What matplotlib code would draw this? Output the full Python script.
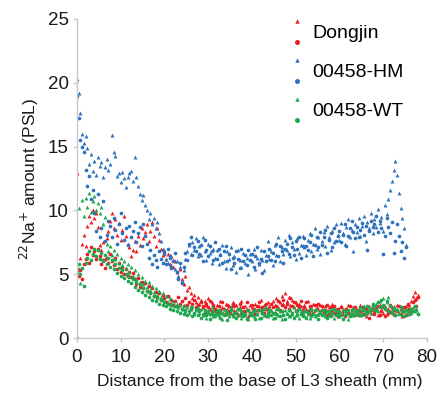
import numpy as np
import matplotlib
matplotlib.use("Agg")
import matplotlib.pyplot as plt
from matplotlib.lines import Line2D
from matplotlib.legend_handler import HandlerBase

plt.rcParams["font.family"] = ["Liberation Sans", "DejaVu Sans"]

# Sampling positions along the sheath (mm), one reading every 0.4 mm
distance_mm = np.round(np.arange(0, 78.01, 0.4), 1)
n_hm = 189  # 00458-HM profile stops at ~75 mm

# ---- Dongjin (two replicate profiles) ----
dongjin_a = [
    12.9, 5.4, 6.3, 7.4, 8.1, 7.2, 8.8, 9.6, 9.1, 10.0,
    9.4, 9.8, 8.7, 7.3, 6.9, 7.5, 6.2, 7.8, 8.4, 9.2,
    9.8, 8.6, 9.3, 8.1, 9.0, 7.7, 8.5, 9.6, 8.0, 7.4,
    7.1, 6.4, 6.9, 7.6, 6.8, 8.0, 7.3, 8.6, 7.8, 8.3,
    8.9, 7.6, 8.4, 9.1, 8.0, 7.2, 8.6, 7.7, 7.0, 6.5,
    6.9, 6.2, 6.6, 5.8, 6.4, 5.6, 6.0, 5.2, 4.8, 5.4,
    4.6, 4.2, 4.9, 3.8, 4.0, 3.5, 3.1, 3.4, 2.8, 3.2,
    2.7, 3.0, 2.4, 2.9, 2.6, 3.1, 2.3, 2.8, 2.5, 2.2,
    2.6, 2.1, 2.9, 2.4, 1.9, 2.7, 2.3, 2.5, 2.0, 2.8,
    2.2, 2.6, 1.8, 2.4, 2.9, 2.1, 2.5, 2.3, 1.7, 2.6,
    2.4, 2.0, 2.7, 2.2, 2.5, 3.0, 2.1, 2.6, 2.3, 2.8,
    2.5, 2.2, 2.9, 2.6, 3.1, 2.4, 2.8, 3.3, 2.7, 3.5,
    2.9, 3.2, 2.6, 3.0, 2.4, 2.8, 2.2, 2.7, 2.5, 2.1,
    2.6, 2.3, 2.9, 2.0, 2.5, 2.7, 2.2, 2.4, 1.9, 2.6,
    2.3, 2.1, 2.5, 1.8, 2.4, 2.2, 2.7, 2.0, 2.3, 1.7,
    2.2, 2.5, 1.9, 2.3, 2.0, 2.6, 1.8, 2.2, 2.4, 2.1,
    1.9, 2.3, 2.6, 2.0, 2.4, 1.7, 2.2, 2.5, 2.0, 2.3,
    2.1, 2.4, 1.8, 2.6, 2.2, 2.0, 2.5, 1.9, 2.3, 2.1,
    2.4, 1.9, 2.2, 2.6, 2.0, 2.3, 1.7, 2.1, 2.5, 2.2,
    2.6, 2.9, 3.3, 3.6, 3.1, 3.4,
]
dongjin_b = [
    0.0, 4.9, 5.3, 4.6, 5.8, 6.2, 6.6, 5.9, 7.1, 6.5,
    6.8, 6.2, 7.0, 6.4, 5.8, 6.1, 5.5, 6.3, 5.9, 6.6,
    6.0, 5.7, 6.3, 5.4, 5.9, 5.2, 5.6, 5.0, 5.4, 4.9,
    5.2, 4.8, 5.1, 4.6, 4.2, 4.7, 4.0, 4.4, 3.9, 4.3,
    3.7, 4.1, 3.5, 3.9, 3.3, 3.6, 3.2, 3.5, 3.0, 3.4,
    3.1, 2.8, 3.3, 2.7, 3.0, 2.6, 2.9, 2.5, 3.2, 2.7,
    2.9, 2.5, 3.1, 2.6, 2.8, 2.3, 2.7, 3.0, 2.4, 2.6,
    2.2, 2.8, 2.5, 2.0, 2.7, 2.4, 2.9, 2.1, 2.6, 2.3,
    2.0, 2.5, 2.2, 2.8, 2.3, 1.9, 2.6, 2.1, 2.4, 2.7,
    2.5, 2.0, 2.3, 2.7, 1.9, 2.4, 2.1, 2.8, 2.2, 2.0,
    2.6, 2.3, 1.9, 2.5, 2.8, 2.2, 2.4, 2.0, 2.7, 2.3,
    2.1, 2.7, 2.4, 2.0, 2.5, 2.9, 2.2, 2.6, 3.0, 2.4,
    2.7, 2.3, 3.1, 2.5, 2.8, 2.1, 2.6, 2.4, 2.9, 2.2,
    2.4, 2.8, 2.1, 2.5, 2.2, 2.0, 2.6, 2.3, 2.7, 2.1,
    2.5, 2.0, 2.2, 2.6, 1.9, 2.4, 2.1, 2.5, 2.0, 2.3,
    2.0, 2.4, 2.1, 1.7, 2.3, 2.0, 2.5, 2.2, 1.8, 2.4,
    2.2, 1.8, 2.1, 2.4, 1.9, 2.3, 2.0, 1.6, 2.2, 2.5,
    1.9, 2.2, 2.5, 1.8, 2.1, 2.4, 1.7, 2.2, 2.0, 2.6,
    2.0, 2.3, 1.8, 2.1, 2.5, 1.9, 2.2, 2.4, 1.8, 2.7,
    2.3, 2.1, 2.8, 3.0, 2.5, 3.2,
]

# ---- 00458-HM (two replicate profiles) ----
hm_a = [
    20.3, 19.2, 17.6, 16.0, 15.3, 15.8, 14.9, 13.6, 14.4, 13.1,
    13.9, 12.8, 14.2, 13.5, 13.8, 12.6, 13.4, 14.0, 13.2, 13.6,
    15.9, 14.6, 14.3, 12.7, 12.9, 12.2, 13.0, 12.5, 11.8, 12.6,
    12.9, 13.1, 12.3, 14.2, 12.6, 11.9, 11.3, 10.8, 11.2, 10.4,
    10.0, 9.3, 9.8, 8.9, 9.4, 8.6, 9.1, 8.2, 7.6, 7.0,
    6.8, 6.2, 5.9, 6.5, 5.7, 6.1, 5.4, 6.0, 4.9, 5.6,
    4.5, 5.3, 6.2, 6.8, 7.3, 6.6, 7.5, 6.9, 7.8, 6.4,
    7.2, 6.5, 7.9, 6.8, 6.1, 7.4, 6.7, 5.9, 7.0, 6.3,
    6.9, 5.8, 6.6, 7.3, 6.0, 5.5, 6.8, 6.2, 7.1, 5.7,
    6.4, 5.2, 6.9, 6.1, 5.6, 6.7, 5.9, 6.3, 5.0, 6.6,
    6.0, 7.0, 5.4, 6.3, 5.8, 6.9, 6.1, 5.3, 6.5, 7.6,
    6.2, 6.8, 5.7, 7.3, 6.5, 7.9, 6.0, 7.1, 6.6, 7.7,
    6.9, 8.1, 6.4, 7.5, 7.0, 6.2, 7.8, 6.7, 7.3, 8.0,
    7.1, 6.5, 7.7, 8.2, 6.8, 7.4, 8.6, 7.0, 7.9, 6.6,
    7.6, 8.3, 7.2, 8.8, 7.9, 6.9, 8.4, 7.5, 8.9, 8.1,
    7.7, 9.0, 8.2, 7.4, 8.7, 9.3, 7.9, 8.5, 6.8, 8.9,
    8.3, 9.4, 8.0, 8.8, 9.6, 7.6, 9.1, 8.6, 9.8, 8.2,
    9.3, 8.7, 10.1, 9.0, 9.5, 8.4, 10.4, 9.7, 10.9, 11.6,
    12.3, 13.2, 13.9, 12.8, 11.4, 10.2, 9.4, 8.6, 7.3,
]
hm_b = [
    19.0, 17.2, 15.5, 15.0, 14.6, 13.2, 11.9, 12.7, 10.9, 11.6,
    9.8, 8.4, 11.3, 7.9, 8.6, 10.7, 7.6, 8.1, 9.2, 8.8,
    7.9, 9.4, 8.5, 7.4, 8.9, 9.8, 8.2, 7.7, 8.6, 7.3,
    8.8, 7.9, 8.4, 9.1, 7.5, 8.2, 8.7, 7.2, 8.9, 8.0,
    7.4, 6.3, 6.9, 5.8, 6.5, 6.1, 5.6, 6.8, 6.2, 5.9,
    6.6, 5.8, 7.0, 6.3, 5.5, 6.0, 6.7, 5.2, 4.6, 5.9,
    4.3, 5.6, 6.7, 6.1, 7.4, 7.9, 6.5, 7.1, 6.8, 7.6,
    6.6, 7.3, 6.0, 7.7, 6.9, 6.4, 7.2, 6.8, 6.1, 7.5,
    6.2, 7.0, 6.5, 5.9, 6.8, 7.2, 6.0, 6.6, 5.4, 6.3,
    5.9, 6.8, 6.2, 5.5, 7.0, 6.0, 6.5, 5.7, 6.9, 6.1,
    6.6, 5.6, 6.4, 7.1, 5.9, 6.2, 5.1, 6.8, 6.0, 6.4,
    7.0, 6.1, 6.7, 6.0, 7.4, 6.4, 7.2, 6.8, 5.9, 7.0,
    7.4, 6.6, 7.8, 7.1, 6.5, 7.6, 7.0, 7.9, 6.3, 7.2,
    7.8, 7.2, 6.9, 7.5, 8.1, 6.4, 7.3, 7.9, 7.1, 8.3,
    7.3, 7.9, 8.5, 6.7, 7.7, 8.2, 7.1, 8.6, 7.6, 8.0,
    8.4, 7.5, 8.1, 8.9, 7.2, 8.0, 8.6, 9.2, 8.3, 7.8,
    8.7, 7.9, 8.5, 9.0, 8.1, 8.8, 6.9, 8.4, 9.2, 8.7,
    8.9, 9.6, 8.3, 9.2, 8.6, 6.6, 8.0, 9.4, 8.7, 8.2,
    9.1, 6.7, 7.6, 8.9, 8.0, 6.8, 7.5, 6.3, 7.1,
]

# ---- 00458-WT (two replicate profiles) ----
wt_a = [
    5.6, 10.2, 4.3, 10.8, 9.6, 11.0, 10.3, 11.4, 9.9, 10.7,
    11.1, 10.0, 10.6, 9.8, 10.3, 8.9, 9.5, 7.4, 6.8, 7.2,
    6.5, 6.9, 6.2, 6.6, 5.9, 6.3, 5.7, 6.0, 5.5, 5.8,
    5.2, 5.6, 4.9, 5.3, 4.6, 5.0, 4.4, 4.8, 4.2, 4.5,
    4.0, 4.4, 3.8, 4.1, 3.6, 3.9, 3.4, 3.7, 3.2, 3.5,
    3.0, 3.3, 2.8, 3.1, 2.6, 2.9, 2.5, 2.7, 2.4, 2.6,
    2.3, 2.6, 2.1, 2.4, 2.0, 2.3, 2.5, 1.9, 2.2, 2.4,
    2.0, 2.3, 1.8, 2.1, 1.6, 2.2, 1.9, 2.4, 1.7, 2.0,
    2.2, 1.8, 2.0, 1.5, 2.3, 1.9, 2.1, 1.7, 2.4, 1.9,
    1.7, 2.1, 1.9, 2.3, 1.6, 2.0, 1.8, 2.2, 1.5, 2.0,
    2.1, 1.7, 2.3, 1.9, 1.6, 2.2, 2.0, 1.8, 2.4, 1.7,
    1.9, 2.2, 1.6, 2.0, 2.3, 1.8, 2.1, 1.5, 1.9, 2.2,
    2.0, 1.7, 2.2, 1.9, 2.4, 1.8, 2.0, 1.6, 2.1, 1.9,
    1.8, 2.1, 1.9, 1.6, 2.2, 2.0, 1.7, 2.3, 1.9, 2.1,
    2.2, 1.9, 1.7, 2.1, 1.8, 2.3, 2.0, 1.6, 2.2, 1.9,
    1.7, 2.0, 2.3, 1.9, 2.1, 1.5, 2.0, 2.2, 1.8, 2.1,
    2.0, 2.3, 1.8, 2.2, 2.5, 1.9, 2.1, 2.4, 2.0, 2.6,
    2.3, 2.7, 2.1, 2.9, 2.5, 3.1, 2.4, 2.8, 3.2, 2.6,
    2.2, 2.5, 1.9, 2.3, 2.0, 2.4, 1.8, 2.1, 2.3, 1.9,
    2.2, 2.0, 2.4, 2.1, 2.3, 2.0,
]
wt_b = [
    5.2, 5.8, 5.0, 5.5, 4.1, 5.9, 6.3, 6.8, 6.1, 6.6,
    7.0, 6.4, 6.9, 6.2, 6.7, 6.0, 6.5, 5.8, 6.3, 5.6,
    6.1, 5.4, 5.8, 5.1, 5.5, 4.9, 5.3, 4.7, 5.0, 4.5,
    4.8, 4.3, 4.6, 4.0, 4.4, 3.8, 4.2, 3.6, 3.9, 3.4,
    3.7, 3.2, 3.5, 3.0, 3.3, 2.9, 3.1, 2.7, 3.0, 2.6,
    2.8, 2.5, 2.7, 2.3, 2.6, 2.2, 2.5, 2.1, 2.4, 2.0,
    2.3, 1.9, 2.2, 1.8, 2.1, 2.4, 1.7, 2.0, 2.3, 1.8,
    2.1, 1.6, 1.9, 2.2, 1.8, 2.0, 1.5, 1.9, 2.1, 1.7,
    1.9, 2.2, 1.6, 2.0, 1.8, 2.1, 1.4, 1.9, 2.2, 1.7,
    2.0, 1.6, 2.3, 1.8, 2.1, 1.7, 1.9, 1.5, 2.2, 1.8,
    1.8, 2.1, 1.5, 1.9, 2.2, 1.6, 2.0, 2.3, 1.7, 2.0,
    2.2, 1.8, 2.0, 1.6, 1.9, 2.3, 1.7, 2.1, 1.8, 1.5,
    1.9, 2.2, 1.7, 2.0, 1.6, 2.1, 1.8, 2.3, 1.9, 1.7,
    2.1, 1.6, 2.0, 2.3, 1.7, 1.9, 2.2, 1.8, 1.5, 2.0,
    1.8, 2.2, 1.9, 1.6, 2.1, 1.7, 2.0, 2.3, 1.8, 2.1,
    2.0, 1.8, 1.5, 2.1, 1.9, 2.2, 1.7, 1.9, 2.3, 1.8,
    2.1, 1.9, 2.4, 1.8, 2.2, 2.0, 2.5, 2.1, 2.3, 2.7,
    2.5, 2.2, 2.8, 2.4, 3.0, 2.6, 2.3, 2.9, 2.1, 2.5,
    2.0, 2.3, 1.8, 2.2, 1.9, 2.4, 2.1, 1.7, 2.2, 2.0,
    1.9, 2.3, 2.1, 2.5, 2.2, 1.9,
]

series_names = ["Dongjin", "00458-HM", "00458-WT"]
series_colors = ["#ec1c24", "#2e72bd", "#1fa84f"]

x_ticks = [0, 10, 20, 30, 40, 50, 60, 70, 80]
y_ticks = [0, 5, 10, 15, 20, 25]

fig = plt.figure(figsize=(4.47, 3.94), dpi=100)
ax = fig.add_axes([0.172, 0.142, 0.783, 0.810])

groups = [
    (distance_mm, dongjin_a, dongjin_b),
    (distance_mm[:n_hm], hm_a, hm_b),
    (distance_mm, wt_a, wt_b),
]
handles = []
for (xs, ya, yb), color in zip(groups, series_colors):
    ax.scatter(xs, ya, marker="^", s=8, color=color, linewidths=0, zorder=2)
    ax.scatter(xs, yb, marker="o", s=7, color=color, linewidths=0, zorder=2)
    tri = Line2D([], [], marker="^", ls="none", color=color, ms=3.2, mew=0)
    cir = Line2D([], [], marker="o", ls="none", color=color, ms=3.6, mew=0)
    handles.append((tri, cir))


class StackedMarkers(HandlerBase):
    """Triangle drawn above circle for each legend entry."""

    def create_artists(self, legend, orig_handle, xdescent, ydescent,
                       width, height, fontsize, trans):
        tri, cir = orig_handle
        xc = width / 2 - xdescent
        top = Line2D([xc], [height * 0.95 - ydescent], marker="^", ls="none",
                     color=tri.get_color(), ms=tri.get_markersize(), mew=0)
        bot = Line2D([xc], [height * 0.05 - ydescent], marker="o", ls="none",
                     color=cir.get_color(), ms=cir.get_markersize(), mew=0)
        top.set_transform(trans)
        bot.set_transform(trans)
        return [top, bot]


leg = ax.legend(handles, series_names, handler_map={tuple: StackedMarkers()},
                loc="upper left", bbox_to_anchor=(0.59, 1.02), frameon=False,
                fontsize=14, handlelength=0.6, handleheight=1.4,
                handletextpad=0.5, labelspacing=0.85, borderaxespad=0.0)

ax.set_xlim(0, 80)
ax.set_ylim(0, 25)
ax.set_xticks(x_ticks)
ax.set_yticks(y_ticks)

for side in ("top", "right"):
    ax.spines[side].set_visible(False)
for side in ("left", "bottom"):
    ax.spines[side].set_color("#c8c8c8")
    ax.spines[side].set_linewidth(1.0)
ax.tick_params(axis="both", colors="#c8c8c8", length=3, width=1.0,
               labelcolor="#1a1a1a", labelsize=13.5)
ax.tick_params(axis="y", pad=3)
ax.tick_params(axis="x", pad=5)

ax.set_xlabel("Distance from the base of L3 sheath (mm)", fontsize=12.5,
              color="#1a1a1a")
ax.xaxis.set_label_coords(0.523, -0.113)
ax.set_ylabel(r"$^{22}$Na$^{+}$ amount (PSL)", fontsize=12.5,
              color="#1a1a1a", labelpad=5)

fig.savefig("out.png", dpi=100)
